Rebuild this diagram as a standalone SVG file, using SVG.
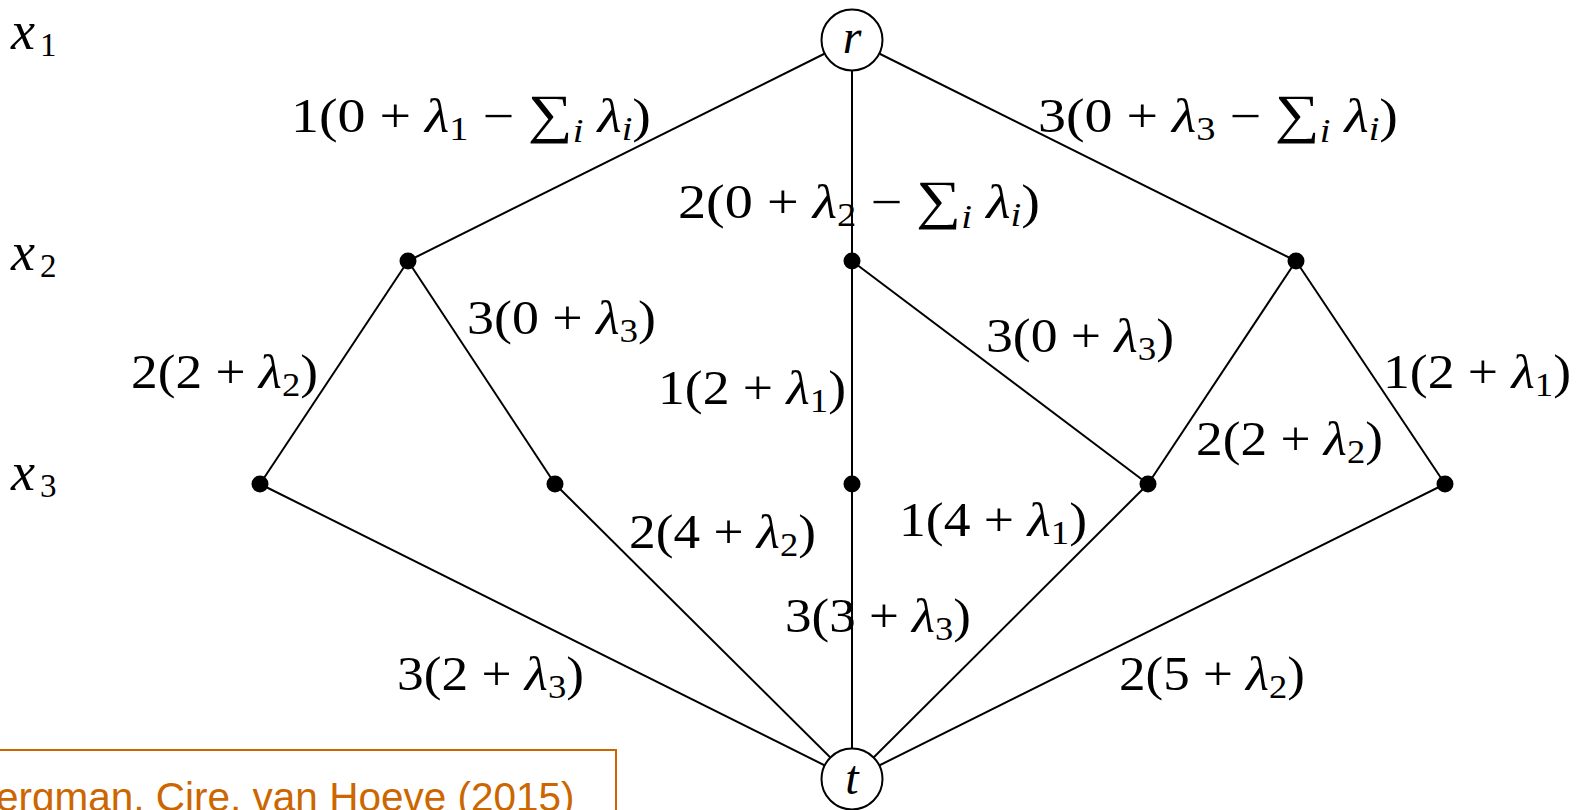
<svg xmlns="http://www.w3.org/2000/svg" width="1583" height="810" viewBox="0 0 1583 810">
<style>
.edge{stroke:#000;stroke-width:2;fill:none}
.dot{fill:#000}
.term{fill:#fff;stroke:#000;stroke-width:2}
.lbl{font-family:"Liberation Serif","DejaVu Serif",serif;font-size:48px;fill:#000}
.var{font-family:"Liberation Serif","DejaVu Serif",serif;font-size:54px;fill:#000}
.it{font-style:italic}
.sub{font-size:33px}
.sum{font-size:54px}
.cite{font-family:"Liberation Sans",Arial,sans-serif;font-size:40.5px;fill:#CC6600}
</style>
<rect width="1583" height="810" fill="#fff"/>
<g id="connectors">
<line class="edge" x1="852" y1="40" x2="408" y2="261"/>
<line class="edge" x1="852" y1="40" x2="852" y2="261"/>
<line class="edge" x1="852" y1="40" x2="1296" y2="261"/>
<line class="edge" x1="408" y1="261" x2="260" y2="484"/>
<line class="edge" x1="408" y1="261" x2="555" y2="484"/>
<line class="edge" x1="852" y1="261" x2="852" y2="484"/>
<line class="edge" x1="852" y1="261" x2="1148" y2="484"/>
<line class="edge" x1="1296" y1="261" x2="1148" y2="484"/>
<line class="edge" x1="1296" y1="261" x2="1445" y2="484"/>
<line class="edge" x1="260" y1="484" x2="852" y2="779"/>
<line class="edge" x1="555" y1="484" x2="852" y2="779"/>
<line class="edge" x1="852" y1="484" x2="852" y2="779"/>
<line class="edge" x1="1148" y1="484" x2="852" y2="779"/>
<line class="edge" x1="1445" y1="484" x2="852" y2="779"/>
</g>
<g id="node-r"><circle class="term" cx="852" cy="40" r="30.5"/><text class="lbl it" x="852" y="53" text-anchor="middle">r</text></g>
<g id="node-a"><circle class="dot" cx="408" cy="261" r="8.5"/></g>
<g id="node-b"><circle class="dot" cx="852" cy="261" r="8.5"/></g>
<g id="node-c"><circle class="dot" cx="1296" cy="261" r="8.5"/></g>
<g id="node-d"><circle class="dot" cx="260" cy="484" r="8.5"/></g>
<g id="node-e"><circle class="dot" cx="555" cy="484" r="8.5"/></g>
<g id="node-f"><circle class="dot" cx="852" cy="484" r="8.5"/></g>
<g id="node-g"><circle class="dot" cx="1148" cy="484" r="8.5"/></g>
<g id="node-h"><circle class="dot" cx="1445" cy="484" r="8.5"/></g>
<g id="node-t"><circle class="term" cx="852" cy="779" r="30.5"/><text class="lbl it" x="852" y="794" text-anchor="middle">t</text></g>
<g id="var-labels">
<text class="var" x="11" y="49"><tspan class="it">x</tspan><tspan class="sub" dx="5" dy="7">1</tspan></text>
<text class="var" x="11" y="270"><tspan class="it">x</tspan><tspan class="sub" dx="5" dy="7">2</tspan></text>
<text class="var" x="11" y="490"><tspan class="it">x</tspan><tspan class="sub" dx="5" dy="7">3</tspan></text>
</g>
<g id="edge-labels">
<text class="lbl" x="291" y="132" textLength="360" lengthAdjust="spacingAndGlyphs">1(0 + <tspan class="it">λ</tspan><tspan class="sub" dy="8">1</tspan><tspan dy="-8"> − </tspan><tspan class="sum">∑</tspan><tspan class="sub it" dy="10">i</tspan><tspan dy="-10"> </tspan><tspan class="it">λ</tspan><tspan class="sub it" dy="8">i</tspan><tspan dy="-8">)</tspan></text>
<text class="lbl" x="1038" y="132" textLength="360" lengthAdjust="spacingAndGlyphs">3(0 + <tspan class="it">λ</tspan><tspan class="sub" dy="8">3</tspan><tspan dy="-8"> − </tspan><tspan class="sum">∑</tspan><tspan class="sub it" dy="10">i</tspan><tspan dy="-10"> </tspan><tspan class="it">λ</tspan><tspan class="sub it" dy="8">i</tspan><tspan dy="-8">)</tspan></text>
<text class="lbl" x="678" y="218" textLength="362" lengthAdjust="spacingAndGlyphs">2(0 + <tspan class="it">λ</tspan><tspan class="sub" dy="8">2</tspan><tspan dy="-8"> − </tspan><tspan class="sum">∑</tspan><tspan class="sub it" dy="10">i</tspan><tspan dy="-10"> </tspan><tspan class="it">λ</tspan><tspan class="sub it" dy="8">i</tspan><tspan dy="-8">)</tspan></text>
<text class="lbl" x="467" y="334" textLength="189" lengthAdjust="spacingAndGlyphs">3(0 + <tspan class="it">λ</tspan><tspan class="sub" dy="8">3</tspan><tspan dy="-8">)</tspan></text>
<text class="lbl" x="131" y="388" textLength="187" lengthAdjust="spacingAndGlyphs">2(2 + <tspan class="it">λ</tspan><tspan class="sub" dy="8">2</tspan><tspan dy="-8">)</tspan></text>
<text class="lbl" x="658" y="404" textLength="188" lengthAdjust="spacingAndGlyphs">1(2 + <tspan class="it">λ</tspan><tspan class="sub" dy="8">1</tspan><tspan dy="-8">)</tspan></text>
<text class="lbl" x="986" y="352" textLength="188" lengthAdjust="spacingAndGlyphs">3(0 + <tspan class="it">λ</tspan><tspan class="sub" dy="8">3</tspan><tspan dy="-8">)</tspan></text>
<text class="lbl" x="1383" y="388" textLength="188" lengthAdjust="spacingAndGlyphs">1(2 + <tspan class="it">λ</tspan><tspan class="sub" dy="8">1</tspan><tspan dy="-8">)</tspan></text>
<text class="lbl" x="1196" y="455" textLength="187" lengthAdjust="spacingAndGlyphs">2(2 + <tspan class="it">λ</tspan><tspan class="sub" dy="8">2</tspan><tspan dy="-8">)</tspan></text>
<text class="lbl" x="629" y="548" textLength="187" lengthAdjust="spacingAndGlyphs">2(4 + <tspan class="it">λ</tspan><tspan class="sub" dy="8">2</tspan><tspan dy="-8">)</tspan></text>
<text class="lbl" x="899" y="536" textLength="188" lengthAdjust="spacingAndGlyphs">1(4 + <tspan class="it">λ</tspan><tspan class="sub" dy="8">1</tspan><tspan dy="-8">)</tspan></text>
<text class="lbl" x="785" y="632" textLength="186" lengthAdjust="spacingAndGlyphs">3(3 + <tspan class="it">λ</tspan><tspan class="sub" dy="8">3</tspan><tspan dy="-8">)</tspan></text>
<text class="lbl" x="397" y="690" textLength="187" lengthAdjust="spacingAndGlyphs">3(2 + <tspan class="it">λ</tspan><tspan class="sub" dy="8">3</tspan><tspan dy="-8">)</tspan></text>
<text class="lbl" x="1119" y="690" textLength="186" lengthAdjust="spacingAndGlyphs">2(5 + <tspan class="it">λ</tspan><tspan class="sub" dy="8">2</tspan><tspan dy="-8">)</tspan></text>
</g>
<g id="citation">
<rect x="-10" y="750" width="626" height="100" fill="none" stroke="#CC6600" stroke-width="2"/>
<text class="cite" x="-4" y="811">ergman, Cire, van Hoeve (2015)</text>
</g>
</svg>
